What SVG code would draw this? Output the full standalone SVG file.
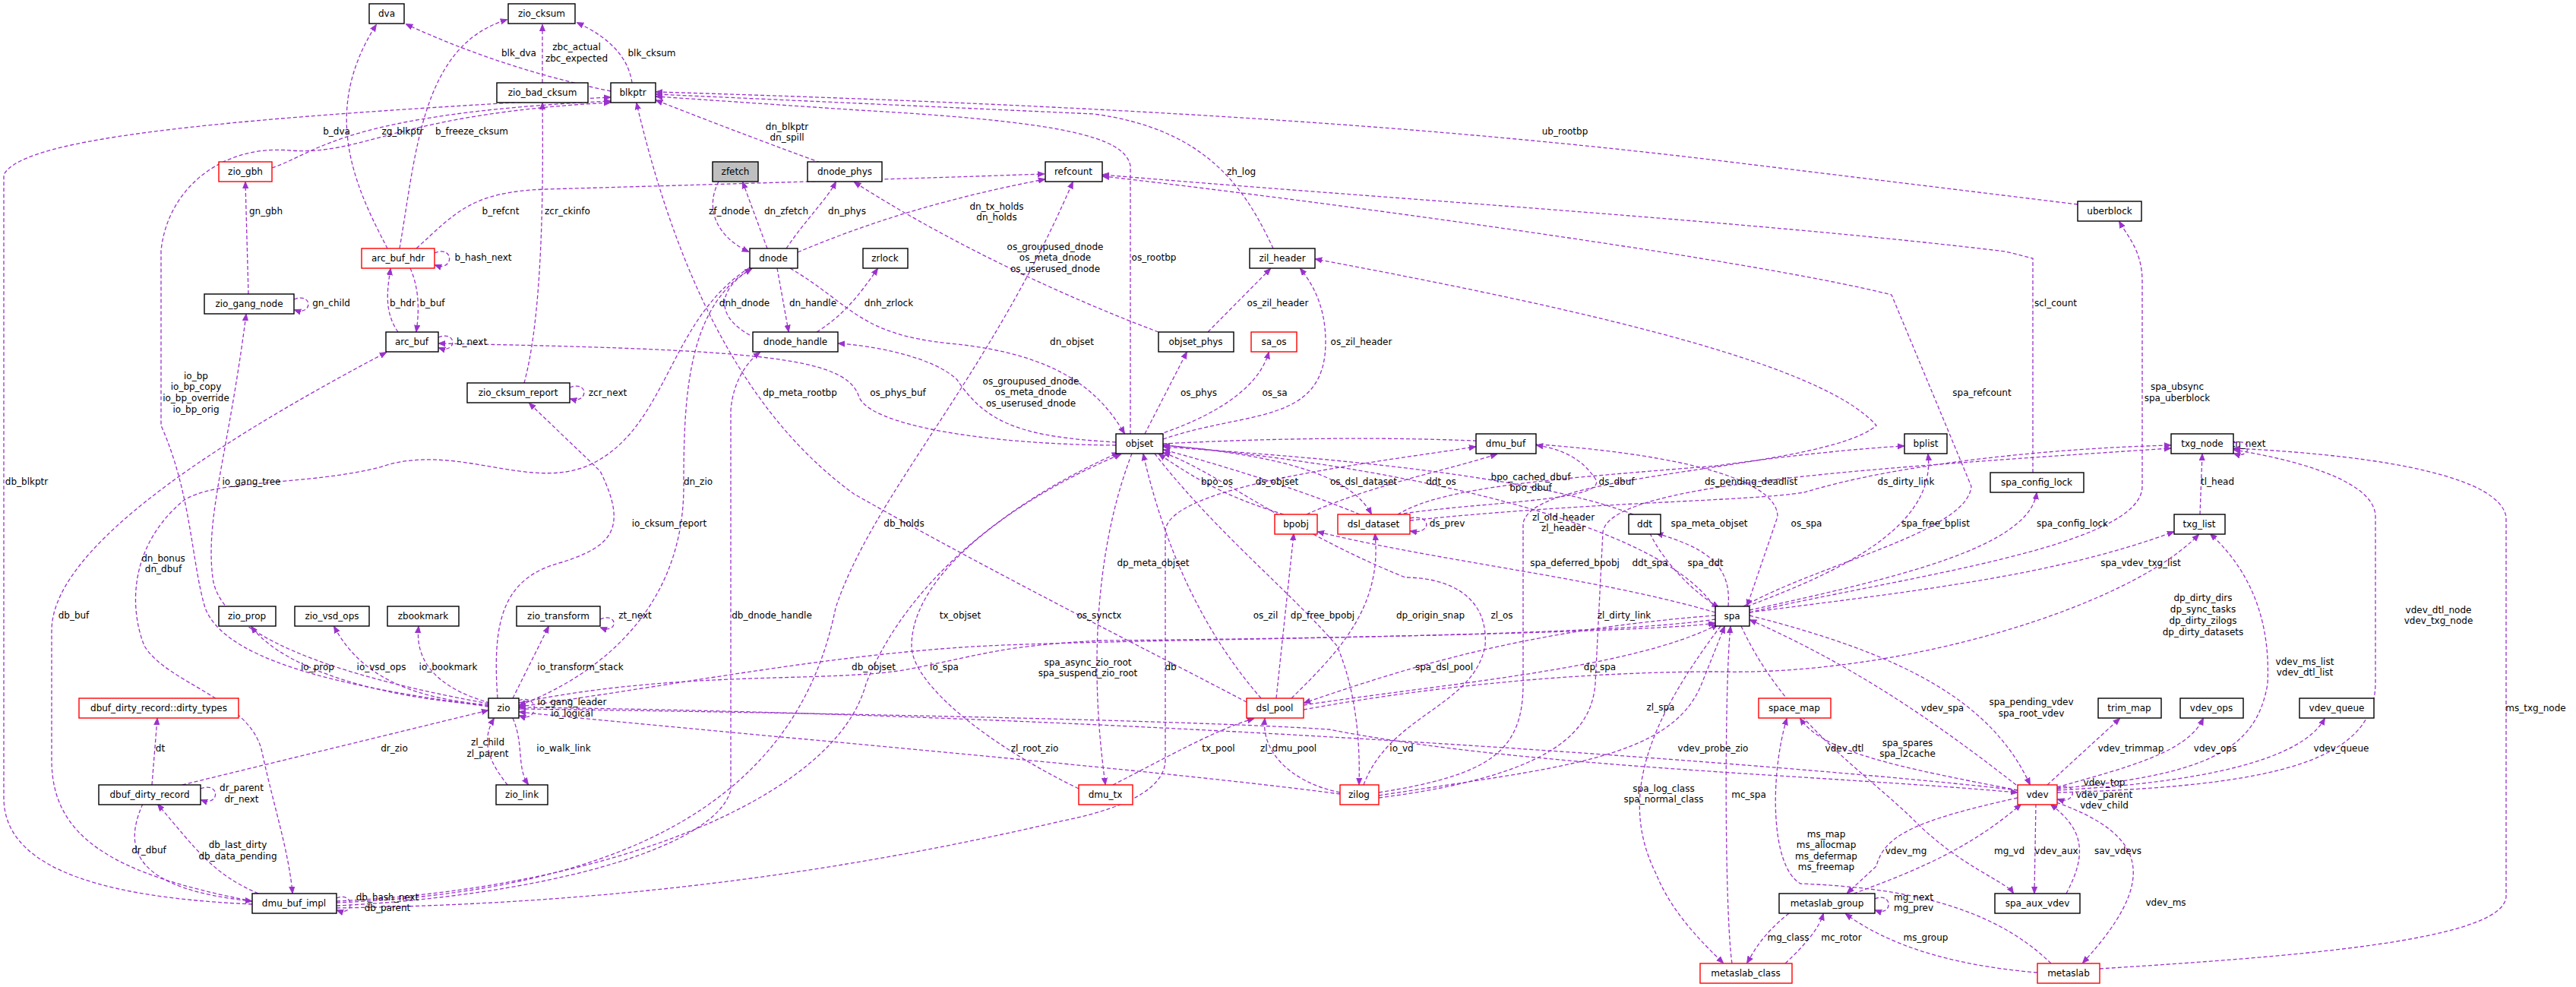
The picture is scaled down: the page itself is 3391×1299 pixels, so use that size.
<svg xmlns="http://www.w3.org/2000/svg" width="3391" height="1299" viewBox="0 0 3391 1299">
<style>
.node rect{fill:#fff;stroke:#000;stroke-width:1.4}
.node.red rect{stroke:#f00}
.node.gray rect{fill:#bfbfbf}
text{font-family:"DejaVu Sans","Liberation Sans",sans-serif;font-size:12px;fill:#000}
.node text{text-anchor:middle}
.e path{fill:none;stroke:#9a32cd;stroke-width:1.3;stroke-dasharray:5,3;marker-end:url(#ah)}
.lb text{text-anchor:middle}
</style>
<defs>
<marker id="ah" viewBox="0 0 10 10" refX="9" refY="5" markerWidth="9" markerHeight="9" orient="auto" markerUnits="userSpaceOnUse">
<path d="M0,1 L10,5 L0,9 z" fill="#9a32cd" stroke="#9a32cd"/>
</marker>
</defs>
<rect width="3391" height="1299" fill="#fff"/>
<g id="connectors" class="e">
<path d="M804,120 Q660,90 535,32"/>
<path d="M832,109 Q825,60 760,30"/>
<path d="M714,109 L714,33"/>
<path d="M510,327 C470,250 420,150 495,33"/>
<path d="M526,327 C548,200 555,60 667,26"/>
<path d="M358,221 C420,200 450,150 803,133"/>
<path d="M1080,214 Q960,170 864,132"/>
<path d="M548,327 C600,280 620,252 720,249 C1000,241 1200,235 1374,229"/>
<path d="M572,333 C598,322 598,358 573,349"/>
<path d="M524,437 C505,410 510,380 514,354"/>
<path d="M540,353 C552,380 552,410 548,436"/>
<path d="M577,444 C602,434 602,466 578,458"/>
<path d="M327,387 L323,240"/>
<path d="M387,394 C412,384 412,416 388,408"/>
<path d="M690,504 C710,430 716,300 714,136"/>
<path d="M750,510 C775,500 775,532 751,525"/>
<path d="M946,239 C925,280 950,315 985,331"/>
<path d="M1010,327 C1000,300 985,260 978,240"/>
<path d="M1035,327 C1060,290 1090,260 1100,240"/>
<path d="M1050,332 C1150,290 1250,260 1375,236"/>
<path d="M1023,353 L1038,436"/>
<path d="M987,441 C940,415 945,380 989,354"/>
<path d="M1075,437 C1110,415 1130,390 1155,354"/>
<path d="M1040,353 C1120,400 1130,440 1250,452 C1400,466 1450,520 1480,570"/>
<path d="M992,352 C905,400 900,520 900,640 C900,820 760,900 684,928"/>
<path d="M987,352 C880,420 880,560 780,610 C700,650 600,580 500,615 C400,640 280,630 240,660 C170,720 170,800 190,850 C220,900 330,920 345,990 C360,1060 380,1120 385,1175"/>
<path d="M1488,571 L1488,218 C1480,180 1400,160 1130,145 L864,127"/>
<path d="M1469,582 C1350,575 1300,560 1260,500 C1230,470 1150,455 1104,452"/>
<path d="M1469,586 C1300,585 1140,560 1130,520 C1110,470 1000,460 578,452"/>
<path d="M1525,437 C1400,390 1250,320 1125,240"/>
<path d="M1590,437 L1672,354"/>
<path d="M1531,578 C1640,540 1745,560 1745,450 C1745,400 1725,370 1712,354"/>
<path d="M1507,571 L1562,464"/>
<path d="M1525,572 C1620,540 1660,500 1670,464"/>
<path d="M1676,327 C1640,250 1590,170 1440,150 L864,124"/>
<path d="M2735,269 L2260,211 C1900,168 1500,140 864,121"/>
<path d="M2295,798 C2400,740 2590,700 2595,640 L2490,388 C2300,340 1700,260 1452,232"/>
<path d="M2676,622 L2676,340 L2640,331 C2300,290 1800,260 1452,230"/>
<path d="M2303,806 C2500,760 2820,720 2820,640 L2820,370 C2820,330 2800,310 2790,292"/>
<path d="M2303,803 C2500,760 2670,720 2681,649"/>
<path d="M2300,798 C2400,760 2550,700 2538,598"/>
<path d="M1840,677 C1900,640 2050,630 2260,613 C2350,600 2450,590 2506,587"/>
<path d="M1856,685 C2100,660 2300,660 2375,648 C2500,610 2700,590 2857,586"/>
<path d="M1840,677 C1950,660 2120,660 2100,630 C2080,600 2050,590 2023,586"/>
<path d="M1690,677 C1600,650 1560,620 1526,598"/>
<path d="M1720,677 C1800,640 1900,620 1970,598"/>
<path d="M1790,677 C1700,640 1600,610 1532,592"/>
<path d="M1531,586 C1700,600 1780,630 1805,676"/>
<path d="M2150,677 C2000,620 1700,600 1532,588"/>
<path d="M2260,804 C2200,700 1900,620 1532,586"/>
<path d="M1531,584 C2000,560 2340,600 2340,680 L2300,797"/>
<path d="M1856,682 C1885,676 1885,704 1857,699"/>
<path d="M1815,1043 C1960,1020 2005,990 2005,900 L2005,690 C2010,620 2400,620 2470,560 C2400,480 2100,410 1732,341"/>
<path d="M2172,702 C2190,740 2230,780 2262,799"/>
<path d="M2275,798 C2280,740 2240,720 2181,702"/>
<path d="M2258,806 C2100,760 1900,740 1735,700"/>
<path d="M2303,806 C2500,780 2700,760 2861,700"/>
<path d="M1716,934 C1900,900 2100,884 2260,884 C2500,890 2800,800 2894,704"/>
<path d="M1660,919 C1600,850 1540,750 1505,598"/>
<path d="M1420,1038 C1300,980 1200,900 1200,850 C1200,750 1350,650 1475,598"/>
<path d="M443,1186 C800,1170 1100,1050 1140,900 C1200,750 1350,650 1472,596"/>
<path d="M1490,597 C1450,700 1430,850 1455,1032"/>
<path d="M1795,1033 C1830,940 1940,930 1955,850 C1960,780 1900,760 1850,760 C1700,700 1600,620 1532,596"/>
<path d="M1520,597 C1600,700 1700,780 1760,850 C1790,920 1790,1000 1789,1032"/>
<path d="M1680,919 L1703,703"/>
<path d="M1700,919 C1760,860 1820,800 1810,703"/>
<path d="M1815,1050 C2050,1020 2095,960 2100,900 L2110,700 C2120,640 2400,620 2857,590"/>
<path d="M683,925 C900,880 1100,900 1200,880 C1300,860 1320,850 1450,843 C1800,840 2200,830 2257,820"/>
<path d="M2258,815 C2100,840 1500,840 1300,850 C1100,860 900,900 684,930"/>
<path d="M443,1195 C800,1190 1100,1150 1400,1080 C1500,1060 1534,1030 1534,1000 L1534,700 C1534,640 1800,610 1942,588"/>
<path d="M2258,810 C2000,830 1850,880 1717,925"/>
<path d="M1716,928 C1900,900 2150,880 2261,822"/>
<path d="M1465,1033 C1530,1000 1600,960 1650,946"/>
<path d="M1764,1043 C1700,1030 1660,990 1665,946"/>
<path d="M1764,1045 C1500,1010 900,960 684,937"/>
<path d="M683,933 C1200,940 1600,950 1750,960 C2000,1010 2400,1020 2655,1043"/>
<path d="M1815,1047 C2050,1010 2200,1000 2240,900 L2270,825"/>
<path d="M2656,1040 C2400,1010 1500,940 684,931"/>
<path d="M2265,824 C2170,950 2130,1050 2180,1150 C2200,1200 2240,1240 2268,1267"/>
<path d="M2280,1268 C2270,1200 2270,900 2278,825"/>
<path d="M2654,1033 C2560,960 2450,880 2304,816"/>
<path d="M2303,810 C2500,860 2620,920 2672,1032"/>
<path d="M2292,824 C2350,950 2460,1020 2520,1080 C2580,1140 2640,1160 2650,1175"/>
<path d="M2656,1040 C2500,1010 2400,990 2370,946"/>
<path d="M2695,1033 L2790,946"/>
<path d="M2708,1036 C2800,1010 2880,990 2900,946"/>
<path d="M2708,1040 C2900,1030 3030,1000 3060,946"/>
<path d="M2708,1038 C2900,1020 2970,990 2985,900 C2990,800 2950,740 2910,703"/>
<path d="M2708,1043 C3000,1035 3125,1000 3127,900 L3127,680 C3127,640 3050,610 2941,592"/>
<path d="M2764,1275 C3000,1260 3296,1240 3299,1180 L3299,680 C3290,630 3150,600 2941,590"/>
<path d="M2708,1038 C2735,1025 2735,1060 2709,1052"/>
<path d="M2700,1268 C2620,1190 2500,1168 2370,1163 C2330,1140 2330,1020 2352,946"/>
<path d="M2656,1050 C2520,1080 2480,1100 2470,1140 L2432,1175"/>
<path d="M2440,1176 C2540,1140 2600,1110 2660,1059"/>
<path d="M2680,1058 L2678,1175"/>
<path d="M2720,1176 C2750,1120 2740,1090 2700,1059"/>
<path d="M2707,1056 C2830,1100 2840,1160 2742,1267"/>
<path d="M2468,1183 C2492,1173 2492,1207 2469,1198"/>
<path d="M2355,1202 C2320,1230 2310,1250 2300,1267"/>
<path d="M2350,1268 C2380,1240 2395,1220 2400,1203"/>
<path d="M2682,1280 C2560,1270 2480,1240 2430,1203"/>
<path d="M643,928 C504,919 375,882 331,825"/>
<path d="M643,928 C560,920 480,900 440,825"/>
<path d="M645,925 C590,910 545,880 551,825"/>
<path d="M675,919 L722,825"/>
<path d="M790,815 C814,805 814,835 791,826"/>
<path d="M655,919 C648,820 660,760 740,740 C800,720 830,700 790,620 L697,531"/>
<path d="M683,922 C710,912 710,952 684,942"/>
<path d="M675,945 C690,980 680,1010 695,1032"/>
<path d="M668,1033 C650,1010 630,980 650,946"/>
<path d="M240,1033 L642,935"/>
<path d="M643,930 C500,910 300,880 270,800 C252,740 252,650 212,560 L212,330 C220,250 290,190 382,198 C480,205 520,150 803,135"/>
<path d="M643,926 C500,900 290,850 280,760 C270,680 300,600 324,414"/>
<path d="M200,1033 L207,946"/>
<path d="M264,1038 C290,1028 290,1062 265,1053"/>
<path d="M188,1058 C160,1120 180,1170 331,1186"/>
<path d="M340,1176 C280,1150 260,1120 208,1059"/>
<path d="M332,1190 C100,1180 5,1130 5,1050 L5,230 C30,180 300,155 803,128"/>
<path d="M332,1186 C144,1150 68,1100 68,1000 L68,830 C68,730 250,600 508,464"/>
<path d="M443,1192 C700,1180 940,1120 962,1040 L962,540 C965,500 985,475 1000,464"/>
<path d="M443,1188 C900,1170 1060,1000 1100,800 C1150,650 1300,500 1412,240"/>
<path d="M443,1182 C467,1173 467,1207 444,1198"/>
<path d="M1641,924 C1500,850 1300,750 1124,650 C1000,560 900,400 838,136"/>
</g>
<g id="labels" class="lb">
<text x="683" y="74">blk_dva</text>
<text x="858" y="74">blk_cksum</text>
<text x="759" y="66">zbc_actual</text><text x="759" y="81">zbc_expected</text>
<text x="443" y="177">b_dva</text>
<text x="530" y="177">zg_blkptr</text>
<text x="621" y="177">b_freeze_cksum</text>
<text x="1036" y="171">dn_blkptr</text><text x="1036" y="185">dn_spill</text>
<text x="659" y="282">b_refcnt</text>
<text x="636" y="343">b_hash_next</text>
<text x="530" y="403">b_hdr</text><text x="569" y="403">b_buf</text>
<text x="621" y="454">b_next</text>
<text x="350" y="282">gn_gbh</text>
<text x="436" y="403">gn_child</text>
<text x="747" y="282">zcr_ckinfo</text>
<text x="800" y="521">zcr_next</text>
<text x="960" y="282">zf_dnode</text>
<text x="1035" y="282">dn_zfetch</text>
<text x="1115" y="282">dn_phys</text>
<text x="1312" y="276">dn_tx_holds</text><text x="1312" y="290">dn_holds</text>
<text x="1070" y="403">dn_handle</text>
<text x="980" y="403">dnh_dnode</text>
<text x="1170" y="403">dnh_zrlock</text>
<text x="1411" y="454">dn_objset</text>
<text x="919" y="638">dn_zio</text>
<text x="215" y="739">dn_bonus</text><text x="215" y="753">dn_dbuf</text>
<text x="1519" y="343">os_rootbp</text>
<text x="1389" y="329">os_groupused_dnode</text><text x="1389" y="343">os_meta_dnode</text><text x="1389" y="358">os_userused_dnode</text>
<text x="1357" y="506">os_groupused_dnode</text><text x="1357" y="520">os_meta_dnode</text><text x="1357" y="535">os_userused_dnode</text>
<text x="1182" y="521">os_phys_buf</text>
<text x="1682" y="403">os_zil_header</text>
<text x="1792" y="454">os_zil_header</text>
<text x="1578" y="521">os_phys</text>
<text x="1678" y="521">os_sa</text>
<text x="1634" y="230">zh_log</text>
<text x="2060" y="177">ub_rootbp</text>
<text x="2609" y="521">spa_refcount</text>
<text x="2706" y="403">scl_count</text>
<text x="2866" y="513">spa_ubsync</text><text x="2866" y="528">spa_uberblock</text>
<text x="2919" y="638">tl_head</text>
<text x="2960" y="588">tn_next</text>
<text x="2728" y="693">spa_config_lock</text>
<text x="2548" y="693">spa_free_bplist</text>
<text x="2305" y="638">ds_pending_deadlist</text>
<text x="2509" y="638">ds_dirty_link</text>
<text x="2128" y="638">ds_dbuf</text>
<text x="1602" y="638">bpo_os</text>
<text x="2015" y="632">bpo_cached_dbuf</text><text x="2015" y="646">bpo_dbuf</text>
<text x="1681" y="638">ds_objset</text>
<text x="1795" y="638">os_dsl_dataset</text>
<text x="1897" y="638">ddt_os</text>
<text x="2250" y="693">spa_meta_objset</text>
<text x="2378" y="693">os_spa</text>
<text x="1905" y="693">ds_prev</text>
<text x="2058" y="685">zl_old_header</text><text x="2058" y="699">zl_header</text>
<text x="2172" y="745">ddt_spa</text>
<text x="2245" y="745">spa_ddt</text>
<text x="2073" y="745">spa_deferred_bpobj</text>
<text x="2818" y="745">spa_vdev_txg_list</text>
<text x="2900" y="791">dp_dirty_dirs</text><text x="2900" y="806">dp_sync_tasks</text><text x="2900" y="821">dp_dirty_zilogs</text><text x="2900" y="836">dp_dirty_datasets</text>
<text x="1518" y="745">dp_meta_objset</text>
<text x="1264" y="814">tx_objset</text>
<text x="1150" y="882">db_objset</text>
<text x="1447" y="814">os_synctx</text>
<text x="1977" y="814">zl_os</text>
<text x="1666" y="814">os_zil</text>
<text x="1741" y="814">dp_free_bpobj</text>
<text x="1883" y="814">dp_origin_snap</text>
<text x="2138" y="814">zl_dirty_link</text>
<text x="1243" y="882">io_spa</text>
<text x="1432" y="876">spa_async_zio_root</text><text x="1432" y="890">spa_suspend_zio_root</text>
<text x="1541" y="882">db</text>
<text x="1901" y="882">spa_dsl_pool</text>
<text x="2106" y="882">dp_spa</text>
<text x="1604" y="989">tx_pool</text>
<text x="1696" y="989">zl_dmu_pool</text>
<text x="1362" y="989">zl_root_zio</text>
<text x="1845" y="989">io_vd</text>
<text x="2186" y="935">zl_spa</text>
<text x="2255" y="989">vdev_probe_zio</text>
<text x="2190" y="1042">spa_log_class</text><text x="2190" y="1056">spa_normal_class</text>
<text x="2302" y="1050">mc_spa</text>
<text x="2557" y="936">vdev_spa</text>
<text x="2674" y="928">spa_pending_vdev</text><text x="2674" y="943">spa_root_vdev</text>
<text x="2511" y="982">spa_spares</text><text x="2511" y="996">spa_l2cache</text>
<text x="2428" y="989">vdev_dtl</text>
<text x="2805" y="989">vdev_trimmap</text>
<text x="2916" y="989">vdev_ops</text>
<text x="3082" y="989">vdev_queue</text>
<text x="3034" y="875">vdev_ms_list</text><text x="3034" y="889">vdev_dtl_list</text>
<text x="3210" y="807">vdev_dtl_node</text><text x="3210" y="821">vdev_txg_node</text>
<text x="3338" y="936">ms_txg_node</text>
<text x="2770" y="1034">vdev_top</text><text x="2770" y="1050">vdev_parent</text><text x="2770" y="1064">vdev_child</text>
<text x="2404" y="1102">ms_map</text><text x="2404" y="1116">ms_allocmap</text><text x="2404" y="1131">ms_defermap</text><text x="2404" y="1145">ms_freemap</text>
<text x="2509" y="1124">vdev_mg</text>
<text x="2645" y="1124">mg_vd</text>
<text x="2707" y="1124">vdev_aux</text>
<text x="2788" y="1124">sav_vdevs</text>
<text x="2851" y="1192">vdev_ms</text>
<text x="2519" y="1185">mg_next</text><text x="2519" y="1199">mg_prev</text>
<text x="2354" y="1238">mg_class</text>
<text x="2424" y="1238">mc_rotor</text>
<text x="2535" y="1238">ms_group</text>
<text x="418" y="882">io_prop</text>
<text x="502" y="882">io_vsd_ops</text>
<text x="590" y="882">io_bookmark</text>
<text x="764" y="882">io_transform_stack</text>
<text x="836" y="814">zt_next</text>
<text x="881" y="693">io_cksum_report</text>
<text x="753" y="928">io_gang_leader</text><text x="753" y="943">io_logical</text>
<text x="742" y="989">io_walk_link</text>
<text x="642" y="981">zl_child</text><text x="642" y="996">zl_parent</text>
<text x="519" y="989">dr_zio</text>
<text x="258" y="499">io_bp</text><text x="258" y="513">io_bp_copy</text><text x="258" y="528">io_bp_override</text><text x="258" y="543">io_bp_orig</text>
<text x="331" y="638">io_gang_tree</text>
<text x="211" y="989">dt</text>
<text x="318" y="1041">dr_parent</text><text x="318" y="1056">dr_next</text>
<text x="196" y="1123">dr_dbuf</text>
<text x="313" y="1116">db_last_dirty</text><text x="313" y="1131">db_data_pending</text>
<text x="35" y="638">db_blkptr</text>
<text x="97" y="814">db_buf</text>
<text x="1016" y="814">db_dnode_handle</text>
<text x="1190" y="693">db_holds</text>
<text x="510" y="1185">db_hash_next</text><text x="510" y="1199">db_parent</text>
<text x="1053" y="521">dp_meta_rootbp</text>
</g>
<path d="M2940,583 C2965,575 2965,605 2941,597" fill="none" stroke="#9a32cd" stroke-width="1.3" stroke-dasharray="5,3" marker-end="url(#ah)"/>
<path d="M2896,677 L2899,598" fill="none" stroke="#9a32cd" stroke-width="1.3" stroke-dasharray="5,3" marker-end="url(#ah)"/>
<g id="n_dva" class="node"><rect x="486" y="5" width="46" height="26"/><text x="509" y="22">dva</text></g>
<g id="n_zio_cksum" class="node"><rect x="669" y="5" width="88" height="26"/><text x="713" y="22">zio_cksum</text></g>
<g id="n_zio_bad_cksum" class="node"><rect x="654" y="109" width="120" height="26"/><text x="714" y="126">zio_bad_cksum</text></g>
<g id="n_blkptr" class="node"><rect x="804" y="109" width="59" height="26"/><text x="833" y="126">blkptr</text></g>
<g id="n_zio_gbh" class="node red"><rect x="288" y="213" width="70" height="26"/><text x="323" y="230">zio_gbh</text></g>
<g id="n_zfetch" class="node gray"><rect x="938" y="213" width="60" height="26"/><text x="968" y="230">zfetch</text></g>
<g id="n_dnode_phys" class="node"><rect x="1063" y="213" width="98" height="26"/><text x="1112" y="230">dnode_phys</text></g>
<g id="n_refcount" class="node"><rect x="1376" y="213" width="75" height="26"/><text x="1413" y="230">refcount</text></g>
<g id="n_uberblock" class="node"><rect x="2735" y="265" width="84" height="26"/><text x="2777" y="282">uberblock</text></g>
<g id="n_arc_buf_hdr" class="node red"><rect x="476" y="327" width="96" height="26"/><text x="524" y="344">arc_buf_hdr</text></g>
<g id="n_dnode" class="node"><rect x="987" y="327" width="63" height="26"/><text x="1018" y="344">dnode</text></g>
<g id="n_zrlock" class="node"><rect x="1136" y="327" width="59" height="26"/><text x="1165" y="344">zrlock</text></g>
<g id="n_zil_header" class="node"><rect x="1645" y="327" width="86" height="26"/><text x="1688" y="344">zil_header</text></g>
<g id="n_zio_gang_node" class="node"><rect x="269" y="387" width="118" height="26"/><text x="328" y="404">zio_gang_node</text></g>
<g id="n_arc_buf" class="node"><rect x="508" y="437" width="69" height="26"/><text x="542" y="454">arc_buf</text></g>
<g id="n_dnode_handle" class="node"><rect x="991" y="437" width="112" height="26"/><text x="1047" y="454">dnode_handle</text></g>
<g id="n_objset_phys" class="node"><rect x="1525" y="437" width="99" height="26"/><text x="1574" y="454">objset_phys</text></g>
<g id="n_sa_os" class="node red"><rect x="1647" y="437" width="60" height="26"/><text x="1677" y="454">sa_os</text></g>
<g id="n_zio_cksum_report" class="node"><rect x="615" y="504" width="135" height="26"/><text x="682" y="521">zio_cksum_report</text></g>
<g id="n_objset" class="node"><rect x="1469" y="571" width="62" height="26"/><text x="1500" y="588">objset</text></g>
<g id="n_dmu_buf" class="node"><rect x="1943" y="571" width="79" height="26"/><text x="1982" y="588">dmu_buf</text></g>
<g id="n_bplist" class="node"><rect x="2507" y="571" width="56" height="26"/><text x="2535" y="588">bplist</text></g>
<g id="n_txg_node" class="node"><rect x="2858" y="571" width="82" height="26"/><text x="2899" y="588">txg_node</text></g>
<g id="n_spa_config_lock" class="node"><rect x="2620" y="622" width="123" height="26"/><text x="2681" y="639">spa_config_lock</text></g>
<g id="n_bpobj" class="node red"><rect x="1678" y="677" width="56" height="26"/><text x="1706" y="694">bpobj</text></g>
<g id="n_dsl_dataset" class="node red"><rect x="1761" y="677" width="95" height="26"/><text x="1808" y="694">dsl_dataset</text></g>
<g id="n_ddt" class="node"><rect x="2144" y="677" width="42" height="26"/><text x="2165" y="694">ddt</text></g>
<g id="n_txg_list" class="node"><rect x="2862" y="677" width="67" height="26"/><text x="2895" y="694">txg_list</text></g>
<g id="n_zio_prop" class="node"><rect x="288" y="798" width="75" height="26"/><text x="325" y="815">zio_prop</text></g>
<g id="n_zio_vsd_ops" class="node"><rect x="388" y="798" width="98" height="26"/><text x="437" y="815">zio_vsd_ops</text></g>
<g id="n_zbookmark" class="node"><rect x="510" y="798" width="94" height="26"/><text x="557" y="815">zbookmark</text></g>
<g id="n_zio_transform" class="node"><rect x="680" y="798" width="110" height="26"/><text x="735" y="815">zio_transform</text></g>
<g id="n_spa" class="node"><rect x="2258" y="798" width="45" height="26"/><text x="2280" y="815">spa</text></g>
<g id="n_dirty_types" class="node red"><rect x="104" y="919" width="210" height="26"/><text x="209" y="936">dbuf_dirty_record::dirty_types</text></g>
<g id="n_zio" class="node"><rect x="643" y="919" width="40" height="26"/><text x="663" y="936">zio</text></g>
<g id="n_dsl_pool" class="node red"><rect x="1641" y="919" width="75" height="26"/><text x="1678" y="936">dsl_pool</text></g>
<g id="n_space_map" class="node red"><rect x="2315" y="919" width="95" height="26"/><text x="2362" y="936">space_map</text></g>
<g id="n_trim_map" class="node"><rect x="2762" y="919" width="83" height="26"/><text x="2803" y="936">trim_map</text></g>
<g id="n_vdev_ops" class="node"><rect x="2870" y="919" width="83" height="26"/><text x="2911" y="936">vdev_ops</text></g>
<g id="n_vdev_queue" class="node"><rect x="3027" y="919" width="98" height="26"/><text x="3076" y="936">vdev_queue</text></g>
<g id="n_dbuf_dirty_record" class="node"><rect x="130" y="1033" width="134" height="26"/><text x="197" y="1050">dbuf_dirty_record</text></g>
<g id="n_zio_link" class="node"><rect x="653" y="1033" width="68" height="26"/><text x="687" y="1050">zio_link</text></g>
<g id="n_dmu_tx" class="node red"><rect x="1420" y="1033" width="71" height="26"/><text x="1455" y="1050">dmu_tx</text></g>
<g id="n_zilog" class="node red"><rect x="1764" y="1033" width="51" height="26"/><text x="1789" y="1050">zilog</text></g>
<g id="n_vdev" class="node red"><rect x="2656" y="1033" width="52" height="26"/><text x="2682" y="1050">vdev</text></g>
<g id="n_dmu_buf_impl" class="node"><rect x="332" y="1176" width="111" height="26"/><text x="387" y="1193">dmu_buf_impl</text></g>
<g id="n_metaslab_group" class="node"><rect x="2342" y="1176" width="126" height="26"/><text x="2405" y="1193">metaslab_group</text></g>
<g id="n_spa_aux_vdev" class="node"><rect x="2626" y="1176" width="112" height="26"/><text x="2682" y="1193">spa_aux_vdev</text></g>
<g id="n_metaslab_class" class="node red"><rect x="2238" y="1268" width="121" height="26"/><text x="2298" y="1285">metaslab_class</text></g>
<g id="n_metaslab" class="node red"><rect x="2682" y="1268" width="82" height="26"/><text x="2723" y="1285">metaslab</text></g>
</svg>
